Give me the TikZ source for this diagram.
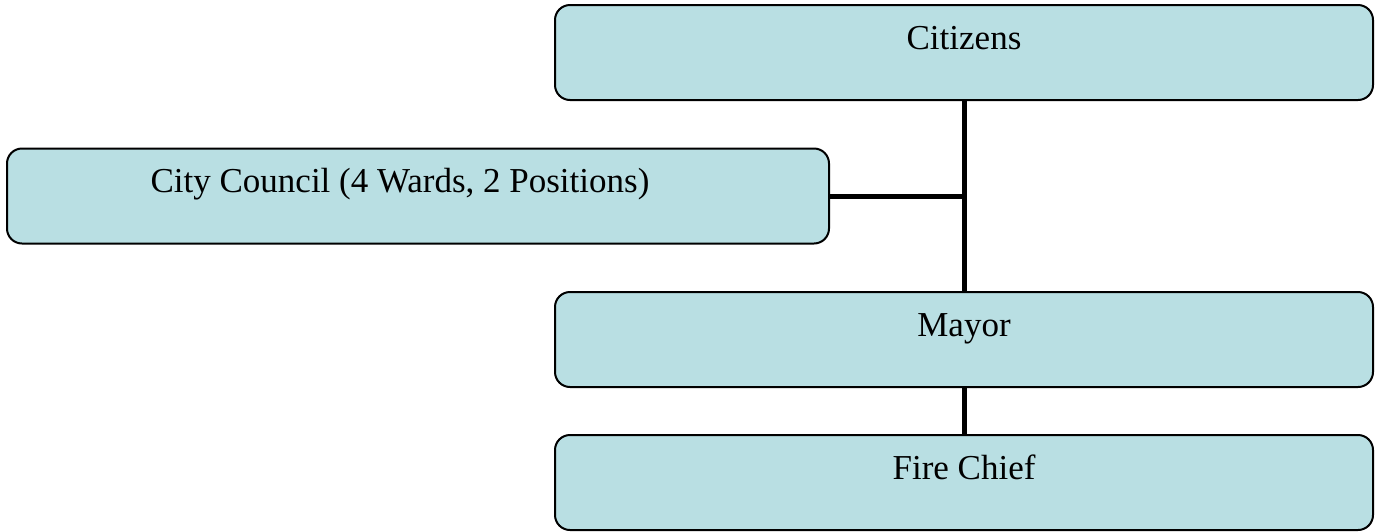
\documentclass[tikz,border=0pt]{standalone}
\usepackage{fontspec}
\setmainfont{Liberation Serif}
\usetikzlibrary{positioning}
\definecolor{boxfill}{RGB}{185,223,227}

\begin{document}
\begin{tikzpicture}[x=0.5pt, y=-0.5pt, node distance=24pt,
        block/.style={draw, line width=1pt, rounded corners=7.5pt, fill=boxfill,
            inner sep=0pt, outer sep=0pt, minimum width=409pt, text height=22pt, text depth=25.5pt,
            font=\fontsize{17.5}{20}\selectfont},
        link/.style={line width=2.5pt}
    ]
        \useasboundingbox (0,0) rectangle (1378,531);

        \node [block] (citizens) at (964,52.5) {Citizens};
        \node [block, minimum width=411pt] (council) at (418,196) {City Council (4 Wards, 2 Positions)\hspace{18pt}\mbox{}};
        \node [block, below=96pt of citizens] (mayor) {Mayor};
        \node [block, below=of mayor] (chief) {Fire Chief};
        \coordinate (jn) at (citizens.south |- council.east);

        \draw [link] (citizens.south) -- (mayor.north);
        \draw [link] (council.east) -- (jn);
        \draw [link] (mayor.south) -- (chief.north);

    \end{tikzpicture}
\end{document}
